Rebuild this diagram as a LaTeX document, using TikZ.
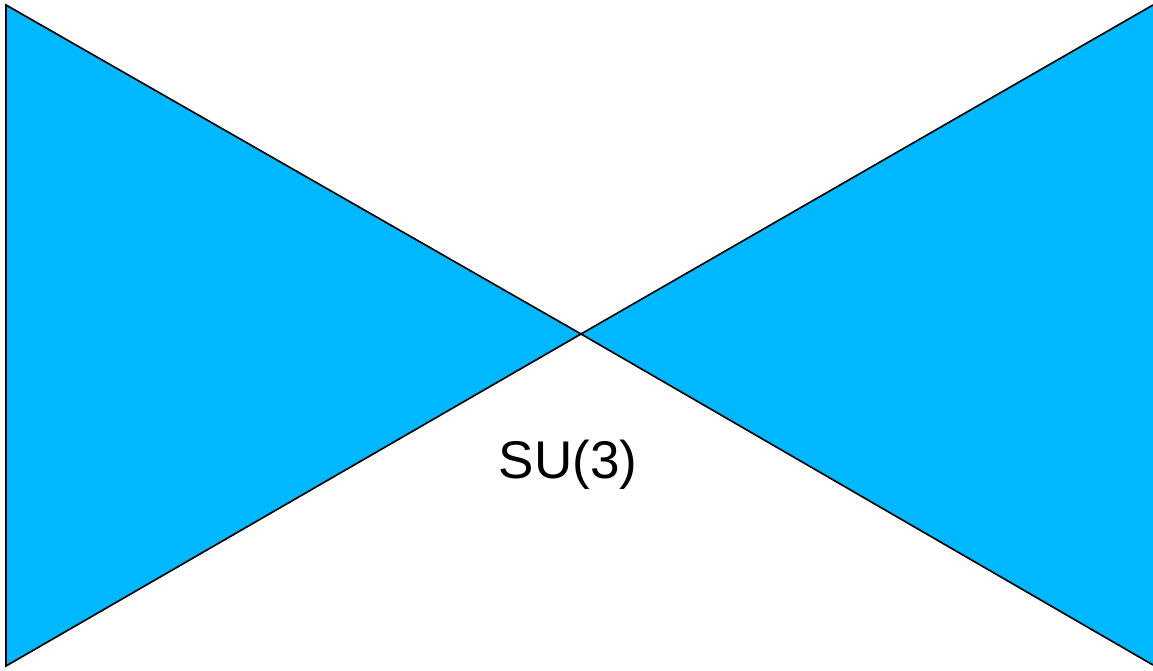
\documentclass[tikz,border=0pt]{standalone}
\usepackage{fontspec}
\setmainfont{Liberation Sans}
\definecolor{wingblue}{RGB}{0,184,255}
\begin{document}
\begin{tikzpicture}[x=0.02cm, y=-0.02cm]
    % Page frame
    \useasboundingbox (0,0) rectangle (1153,671);
    % Corners of the left wing
    \coordinate (A) at (6,5);
    \coordinate (B) at (6,666);
    % Common tip
    \coordinate (O) at (581,334);
    % Corners of the right wing
    \coordinate (C) at (1153,5);
    \coordinate (D) at (1153,665);

    % Left wing
    \filldraw[fill=wingblue, draw=black, line width=0.95pt, line join=miter] (A) -- (B) -- (O) -- cycle;
    % Right wing (its outer edge lies on the border)
    \fill[wingblue] (O) -- (C) -- (D) -- cycle;
    \draw[line width=0.95pt] (C) -- (O) -- (D);

    % Label
    \node (su) at (568,479) [anchor=base, inner sep=0pt, font=\fontsize{30.2}{36}\selectfont] {SU(3)};
\end{tikzpicture}
\end{document}
